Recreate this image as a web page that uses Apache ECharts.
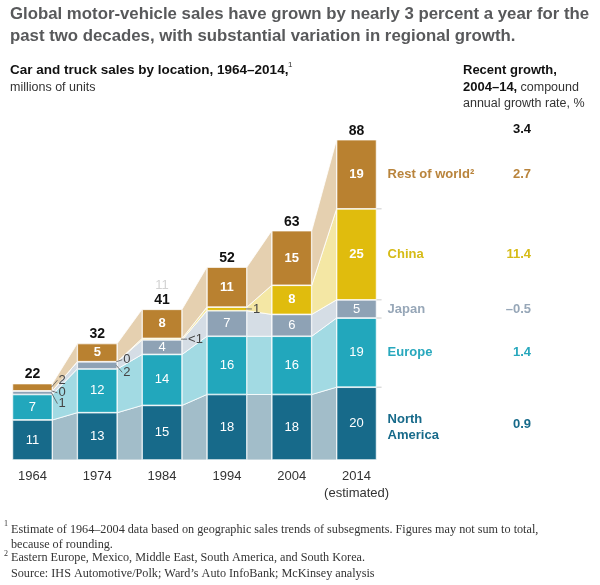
<!DOCTYPE html>
<html><head><meta charset="utf-8">
<script src="https://cdn.jsdelivr.net/npm/echarts@6/dist/echarts.min.js"></script>
<style>html,body{margin:0;padding:0;background:#fff}#c{width:600px;height:585px}</style>
</head><body><div id="c"></div>
<script>
// ---- data ----
const years = ['1964','1974','1984','1994','2004','2014'];
const yearLabels = ['1964','1974','1984','1994','2004','2014\n(estimated)'];
const northAmerica = [11, 13, 15, 18, 18, 20];
const europe       = [7, 12, 14, 16, 16, 19];
const japan        = [1, 2, 4, 7, 6, 5];
const china        = [0, 0, 0.4, 1, 8, 25];
const restOfWorld  = [2, 5, 8, 11, 15, 19];
const totals       = [22, 32, 41, 52, 63, 88];
const regionNames  = ['North\nAmerica', 'Europe', 'Japan', 'China', 'Rest of world²'];
const growthRates  = ['0.9', '1.4', '–0.5', '11.4', '2.7'];
const totalGrowth  = '3.4';
// segments too small to label inside: [category index, layer index, text]
const smallLabels = [[0,4,'2'],[0,3,'0'],[0,2,'1'],[1,3,'0'],[1,2,'2'],[2,3,'<1'],[3,3,'1']];

// ---- styling ----
const layers = [northAmerica, europe, japan, china, restOfWorld];
const segColors  = ['#176a8a', '#22a7bc', '#8ea2b5', '#e0bc0d', '#b98130'];
const bandColors = ['#a2bdc9', '#a2dae3', '#d5dde5', '#f4e7a4', '#e5d0b0'];
const nameColors = ['#176a8a', '#28a8bd', '#97a7b8', '#d6bb16', '#b9843c'];
const smallLabelDy = [-7, 2, 11, -2, 7, 0, 0];
const BAR_W = 40, HALF = BAR_W / 2;
const SANS = "'Liberation Sans', Arial, sans-serif";
const SERIF = "'Liberation Serif', 'Times New Roman', serif";

function cum(k, c) { let s = 0; for (let j = 0; j < k; j++) s += layers[j][c]; return s; }
function stackTop(c) { return cum(layers.length, c); }

const chart = echarts.init(document.getElementById('c'), null, {renderer: 'canvas'});

function txt(x, y, text, fill, font, align, vAlign) {
  return {
    type: 'text', x: x, y: y,
    style: {text: text, fill: fill, textFill: fill, font: font, textFont: font,
            align: align, textAlign: align, verticalAlign: vAlign, textVerticalAlign: vAlign}
  };
}

const bandData = [];
for (let g = 0; g < years.length - 1; g++) for (let k = 0; k < layers.length; k++) bandData.push([g, k]);

const barSeries = layers.map((arr, k) => ({
  type: 'bar', stack: 'total', data: arr, barWidth: BAR_W, z: 3,
  itemStyle: {color: segColors[k], borderColor: '#fff', borderWidth: 0.7},
  label: {
    show: true, position: 'inside',
    formatter: p => (p.value >= 3 ? String(p.value) : ''),
    color: '#fff', fontFamily: SANS, fontSize: 13,
    fontWeight: (k >= 3 ? 'bold' : 'normal')
  },
  emphasis: {disabled: true}
}));

const option = {
  animation: false,
  grid: {left: -1, width: 390, top: 96, height: 364},
  xAxis: {
    type: 'category', data: years,
    axisLine: {show: false}, axisTick: {show: false},
    axisLabel: {interval: 0, formatter: (v, i) => yearLabels[i], color: '#333', fontFamily: SANS, fontSize: 13, margin: 8, lineHeight: 17}
  },
  yAxis: {type: 'value', min: 0, max: 100, show: false, splitLine: {show: false}},
  series: [
    {
      type: 'custom', z: 1, data: bandData, silent: true,
      renderItem: function (params, api) {
        const g = api.value(0), k = api.value(1);
        const lo0 = cum(k, g), hi0 = lo0 + layers[k][g];
        const lo1 = cum(k, g + 1), hi1 = lo1 + layers[k][g + 1];
        const a = api.coord([g, lo0]), b = api.coord([g, hi0]);
        const c = api.coord([g + 1, hi1]), d = api.coord([g + 1, lo1]);
        return {
          type: 'polygon',
          shape: {points: [[a[0] + HALF, a[1]], [b[0] + HALF, b[1]], [c[0] - HALF, c[1]], [d[0] - HALF, d[1]]]},
          style: {fill: bandColors[k], stroke: '#fff', lineWidth: 0.8}
        };
      }
    },
    ...barSeries,
    {
      // totals above bars
      type: 'custom', z: 5, silent: true, data: years.map((y, i) => [i, stackTop(i)]),
      renderItem: function (params, api) {
        const i = api.value(0);
        const p = api.coord([i, stackTop(i)]);
        const kids = [txt(p[0], p[1] - 9, String(totals[i]), '#111', 'bold 14px ' + SANS, 'center', 'middle')];
        if (i === 2) kids.push(txt(p[0], p[1] - 24, '11', '#d2d2d2', '13px ' + SANS, 'center', 'middle'));
        if (i === years.length - 1) kids.push(txt(531, p[1] - 10, totalGrowth, '#111', 'bold 13px ' + SANS, 'right', 'middle'));
        return {type: 'group', children: kids};
      }
    },
    {
      // small segment labels with leader lines
      type: 'custom', z: 5, silent: true, data: smallLabels.map((s, j) => [s[0], j]),
      renderItem: function (params, api) {
        const j = api.value(1);
        const s = smallLabels[j];
        const c = s[0], k = s[1];
        const mid = cum(k, c) + layers[k][c] / 2;
        const p = api.coord([c, mid]);
        const x0 = p[0] + HALF, y0 = p[1], ly = p[1] + smallLabelDy[j];
        return {type: 'group', children: [
          {type: 'line', shape: {x1: x0 - 1, y1: y0, x2: x0 + 5, y2: ly}, style: {stroke: '#555', lineWidth: 0.8}},
          txt(x0 + 6, ly, s[2], '#444', '13px ' + SANS, 'left', 'middle')
        ]};
      }
    },
    {
      // region names + growth rates beside the last bar
      type: 'custom', z: 5, silent: true, data: layers.map((l, k) => [years.length - 1, k]),
      renderItem: function (params, api) {
        const c = api.value(0), k = api.value(1);
        const lo = cum(k, c), hi = lo + layers[k][c];
        const p = api.coord([c, (lo + hi) / 2]);
        const top = api.coord([c, hi]);
        const yMid = p[1] + (k === 0 ? 4 : 0);
        const name = txt(p[0] + HALF + 11, yMid, regionNames[k], nameColors[k], 'bold 13px ' + SANS, 'left', 'middle');
        name.style.lineHeight = 16;
        const kids = [
          name,
          txt(531, yMid - (k === 0 ? 3 : 0), growthRates[k], nameColors[k], 'bold 13px ' + SANS, 'right', 'middle')
        ];
        if (k < layers.length - 1) kids.push({type: 'line', shape: {x1: top[0] + HALF, y1: top[1], x2: top[0] + HALF + 5, y2: top[1]}, style: {stroke: '#cccccc', lineWidth: 1}});
        return {type: 'group', children: kids};
      }
    }
  ],
  graphic: [
    {type: 'text', left: 10, top: 3, style: {text: 'Global motor-vehicle sales have grown by nearly 3 percent a year for the\npast two decades, with substantial variation in regional growth.', fill: '#58595b', font: 'bold 16.8px ' + SANS, lineHeight: 22}},
    {type: 'text', left: 10, top: 63, style: {text: 'Car and truck sales by location, 1964–2014,', fill: '#111', font: 'bold 13.5px ' + SANS}},
    {type: 'text', left: 288, top: 61, style: {text: '1', fill: '#333', font: '8px ' + SANS}},
    {type: 'text', left: 10, top: 81, style: {text: 'millions of units', fill: '#333', font: '12.5px ' + SANS}},
    {type: 'text', left: 463, top: 64, style: {text: 'Recent growth,', fill: '#111', font: 'bold 13px ' + SANS}},
    {type: 'text', left: 463, top: 81, style: {text: '{b|2004–14,} {n|compound}', rich: {b: {fill: '#111', font: 'bold 13px ' + SANS}, n: {fill: '#333', font: '12.5px ' + SANS}}}},
    {type: 'text', left: 463, top: 97, style: {text: 'annual growth rate, %', fill: '#333', font: '12.5px ' + SANS}},
    {type: 'text', left: 4, top: 520, style: {text: '1', fill: '#333', font: '8px ' + SERIF}},
    {type: 'text', left: 11, top: 522, style: {text: 'Estimate of 1964–2004 data based on geographic sales trends of subsegments. Figures may not sum to total,\nbecause of rounding.', fill: '#333', font: '12.2px ' + SERIF, lineHeight: 15}},
    {type: 'text', left: 4, top: 550, style: {text: '2', fill: '#333', font: '8px ' + SERIF}},
    {type: 'text', left: 11, top: 552, style: {text: 'Eastern Europe, Mexico, Middle East, South America, and South Korea.', fill: '#333', font: '12.2px ' + SERIF}},
    {type: 'text', left: 11, top: 568, style: {text: 'Source: IHS Automotive/Polk; Ward’s Auto InfoBank; McKinsey analysis', fill: '#333', font: '12.2px ' + SERIF}}
  ]
};
chart.setOption(option);
</script>
</body></html>
